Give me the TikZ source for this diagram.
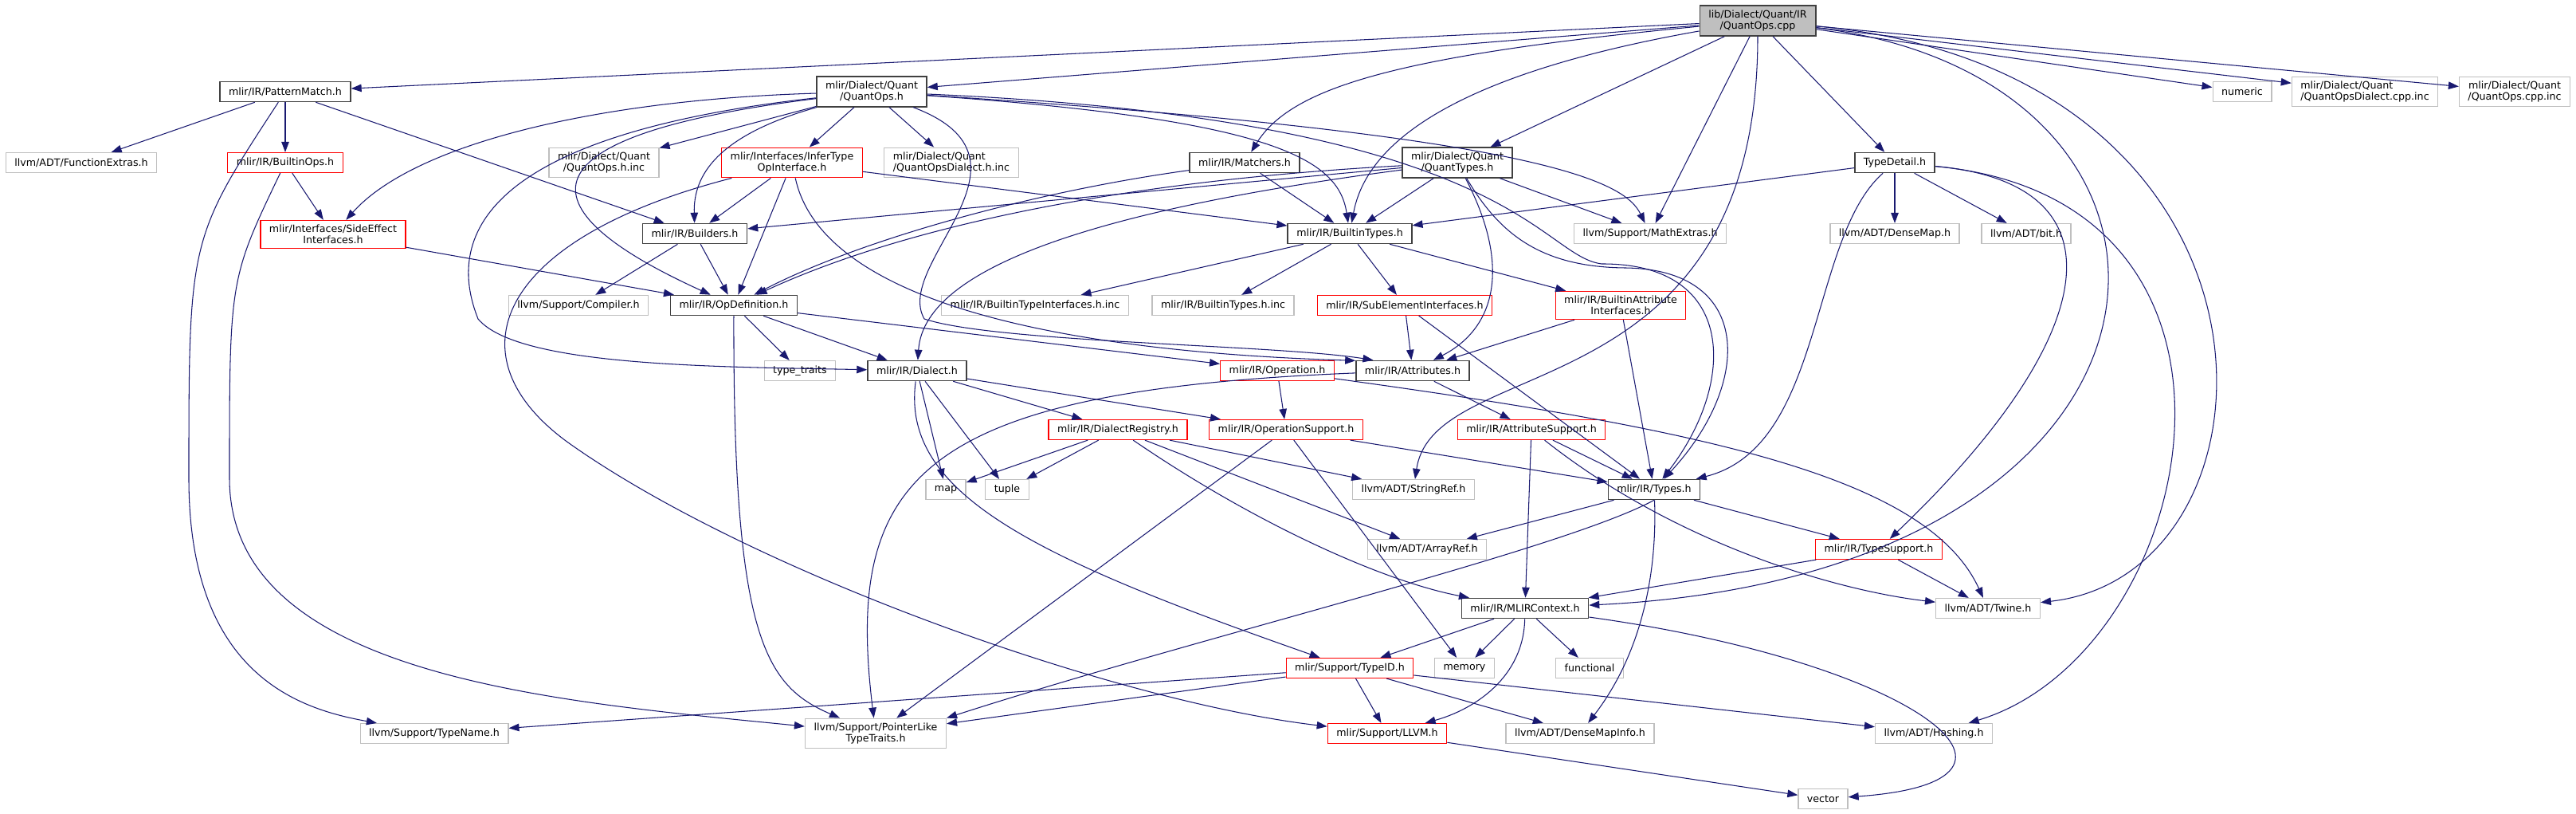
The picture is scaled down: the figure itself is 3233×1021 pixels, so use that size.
\documentclass[tikz,border=0pt]{standalone}
\usepackage{fontspec}
\setmainfont{DejaVu Sans}
\usetikzlibrary{arrows.meta}
\definecolor{cEdge}{HTML}{191970}
\definecolor{cRed}{HTML}{FF0000}
\definecolor{cExt}{HTML}{BFBFBF}
\definecolor{cRoot}{HTML}{BFBFBF}
\definecolor{cInk}{HTML}{404040}
\tikzset{
  >={Triangle[length=2.6mm,width=1.9mm]},
  box/.style ={draw,fill=white,align=center,inner xsep=2.2mm,inner ysep=1.1mm,
               minimum height=5mm,line width=0.7pt,font=\fontsize{7.2}{8.2}\selectfont},
  hbox/.style={box,draw=cInk,line width=0.9pt},
  rbox/.style={box,draw=cRed},
  xbox/.style={box,draw=cExt},
  sbox/.style={box,draw=cInk,fill=cRoot,line width=1pt},
  ar/.style  ={->,cEdge,line width=0.6pt},
}

\begin{document}
\begin{tikzpicture}[x=0.02cm,y=-0.02cm]
\useasboundingbox (0,0) rectangle (3233,1021);
\node[sbox] (root) at (2206,26) {lib/Dialect/Quant/IR\\/QuantOps.cpp};
\node[hbox] (pm) at (358,115) {mlir/IR/PatternMatch.h};
\node[hbox] (qops) at (1094,115) {mlir/Dialect/Quant\\/QuantOps.h};
\node[xbox] (numeric) at (2814,115) {numeric};
\node[xbox,align=left] (qdcpp) at (2968,115) {mlir/Dialect/Quant\\/QuantOpsDialect.cpp.inc};
\node[xbox] (qcpp) at (3156,115) {mlir/Dialect/Quant\\/QuantOps.cpp.inc};
\node[xbox] (fext) at (102,204) {llvm/ADT/FunctionExtras.h};
\node[rbox] (bops) at (358,204) {mlir/IR/BuiltinOps.h};
\node[xbox] (qhinc) at (758,204) {mlir/Dialect/Quant\\/QuantOps.h.inc};
\node[rbox] (infer) at (994,204) {mlir/Interfaces/InferType\\OpInterface.h};
\node[xbox,align=left] (qdhinc) at (1194,204) {mlir/Dialect/Quant\\/QuantOpsDialect.h.inc};
\node[hbox] (match) at (1562,204) {mlir/IR/Matchers.h};
\node[hbox] (qtypes) at (1829,204) {mlir/Dialect/Quant\\/QuantTypes.h};
\node[hbox] (tdet) at (2378,204) {TypeDetail.h};
\node[rbox] (side) at (418,294) {mlir/Interfaces/SideEffect\\Interfaces.h};
\node[hbox] (build) at (872,293) {mlir/IR/Builders.h};
\node[hbox] (btypes) at (1694,293) {mlir/IR/BuiltinTypes.h};
\node[xbox] (mathx) at (2071,293) {llvm/Support/MathExtras.h};
\node[xbox] (dmap) at (2378,293) {llvm/ADT/DenseMap.h};
\node[xbox] (bit) at (2543,293) {llvm/ADT/bit.h};
\node[xbox] (comp) at (726,383) {llvm/Support/Compiler.h};
\node[hbox] (opdef) at (921,383) {mlir/IR/OpDefinition.h};
\node[xbox] (btiinc) at (1299,383) {mlir/IR/BuiltinTypeInterfaces.h.inc};
\node[xbox] (btinc) at (1535,383) {mlir/IR/BuiltinTypes.h.inc};
\node[rbox] (subel) at (1763,383) {mlir/IR/SubElementInterfaces.h};
\node[rbox] (bai) at (2034,383) {mlir/IR/BuiltinAttribute\\Interfaces.h};
\node[xbox] (ttraits) at (1004,465) {type\_traits};
\node[hbox] (dial) at (1151,465) {mlir/IR/Dialect.h};
\node[rbox] (oper) at (1603,465) {mlir/IR/Operation.h};
\node[hbox] (attr) at (1773,465) {mlir/IR/Attributes.h};
\node[rbox] (dreg) at (1403,539) {mlir/IR/DialectRegistry.h};
\node[rbox] (opsup) at (1614,539) {mlir/IR/OperationSupport.h};
\node[rbox] (attrsup) at (1922,539) {mlir/IR/AttributeSupport.h};
\node[xbox] (map) at (1187,614) {map};
\node[xbox] (tuple) at (1264,614) {tuple};
\node[xbox] (sref) at (1774,614) {llvm/ADT/StringRef.h};
\node[hbox] (types) at (2076,614) {mlir/IR/Types.h};
\node[xbox] (aref) at (1791,689) {llvm/ADT/ArrayRef.h};
\node[rbox] (tsup) at (2358,689) {mlir/IR/TypeSupport.h};
\node[hbox] (ctx) at (1914,763) {mlir/IR/MLIRContext.h};
\node[xbox] (twine) at (2495,763) {llvm/ADT/Twine.h};
\node[rbox] (tid) at (1694,838) {mlir/Support/TypeID.h};
\node[xbox] (memory) at (1838,838) {memory};
\node[xbox] (functional) at (1995,838) {functional};
\node[xbox] (tname) at (545,920) {llvm/Support/TypeName.h};
\node[xbox] (ptrait) at (1099,920) {llvm/Support/PointerLike\\TypeTraits.h};
\node[rbox] (llvmh) at (1741,920) {mlir/Support/LLVM.h};
\node[xbox] (dmi) at (1983,920) {llvm/ADT/DenseMapInfo.h};
\node[xbox] (hash) at (2427,920) {llvm/ADT/Hashing.h};
\node[xbox] (vector) at (2288,1002) {vector};

\draw[ar] (root) -- (pm);
\draw[ar] (root) -- (qops);
\draw[ar] (root) .. controls (1750,70) and (1620,110) .. (match);
\draw[ar] (root) .. controls (1900,80) and (1720,150) .. (btypes);
\draw[ar] (root) -- (qtypes);
\draw[ar] (root) -- (mathx);
\draw[ar] (root) -- (tdet);
\draw[ar] (root) -- (numeric);
\draw[ar] (root) -- (qdcpp);
\draw[ar] (root) -- (qcpp);
\draw[ar] (root.south) .. controls (2206,520) and (1800,440) .. (sref);
\draw[ar] (root) .. controls (2820,100) and (2790,720) .. (ctx);
\draw[ar] (root) .. controls (2900,90) and (2880,720) .. (twine);
\draw[ar] (pm) -- (fext);
\draw[ar] (pm) -- (bops);
\draw[ar] (pm) -- (build);
\draw[ar] (pm) .. controls (237,300) .. (237,600) .. controls (237,850) and (380,890) .. (tname);
\draw[ar] (bops) -- (side);
\draw[ar] (bops) .. controls (288,350) .. (288,600) .. controls (288,850) and (700,880) .. (ptrait);
\draw[ar] (qops) .. controls (750,125) and (520,180) .. (side);
\draw[ar] (qops) -- (qhinc);
\draw[ar] (qops) -- (infer);
\draw[ar] (qops) -- (qdhinc);
\draw[ar] (qops) .. controls (900,170) and (870,220) .. (build);
\draw[ar] (qops) .. controls (650,170) and (650,260) .. (opdef);
\draw[ar] (qops) .. controls (600,170) and (560,300) .. (600,400) .. controls (650,460) and (900,460) .. (dial);
\draw[ar] (qops) .. controls (1600,150) and (1680,200) .. (btypes);
\draw[ar] (qops) .. controls (1950,170) and (2040,230) .. (mathx);
\draw[ar] (qops) .. controls (1900,150) and (1930,320) .. (2010,331) .. controls (2180,330) and (2180,480) .. (types);
\draw[ar] (qops) .. controls (1320,200) and (1120,330) .. (1160,400) .. controls (1250,430) and (1600,432) .. (attr.165);
\draw[ar] (infer) -- (build);
\draw[ar] (infer) -- (opdef);
\draw[ar] (infer) -- (btypes);
\draw[ar] (infer) .. controls (1030,370) and (1300,440) .. (attr.170);
\draw[ar] (infer) .. controls (620,300) and (560,450) .. (720,560) .. controls (950,720) and (1400,880) .. (llvmh);
\draw[ar] (side) -- (opdef);
\draw[ar] (build) -- (comp);
\draw[ar] (build) -- (opdef);
\draw[ar] (match) -- (btypes);
\draw[ar] (match) .. controls (1300,240) and (1080,300) .. (opdef);
\draw[ar] (qtypes) -- (build);
\draw[ar] (qtypes) .. controls (1350,230) and (1100,300) .. (opdef);
\draw[ar] (qtypes) .. controls (1400,260) and (1160,330) .. (dial);
\draw[ar] (qtypes) -- (btypes);
\draw[ar] (qtypes) -- (mathx);
\draw[ar] (qtypes) .. controls (1895,330) and (1880,410) .. (attr);
\draw[ar] (qtypes) .. controls (1880,290) and (1930,335) .. (2040,336) .. controls (2200,338) and (2200,480) .. (types);
\draw[ar] (tdet) -- (btypes);
\draw[ar] (tdet) -- (dmap);
\draw[ar] (tdet) -- (bit);
\draw[ar] (tdet) .. controls (2670,230) and (2640,420) .. (tsup);
\draw[ar] (tdet) .. controls (2880,250) and (2760,820) .. (hash);
\draw[ar] (tdet) .. controls (2270,300) and (2290,560) .. (types);
\draw[ar] (btypes) -- (btiinc);
\draw[ar] (btypes) -- (btinc);
\draw[ar] (btypes) -- (subel);
\draw[ar] (btypes) -- (bai);
\draw[ar] (subel) -- (attr);
\draw[ar] (subel) -- (types);
\draw[ar] (bai) -- (attr);
\draw[ar] (bai) -- (types);
\draw[ar] (opdef) -- (ttraits);
\draw[ar] (opdef) -- (dial);
\draw[ar] (opdef) -- (oper);
\draw[ar] (opdef) .. controls (920,800) and (960,860) .. (ptrait);
\draw[ar] (dial) -- (map);
\draw[ar] (dial) -- (tuple);
\draw[ar] (dial) -- (dreg);
\draw[ar] (dial) -- (opsup);
\draw[ar] (dial) .. controls (1130,620) and (1300,700) .. (tid);
\draw[ar] (oper) -- (opsup);
\draw[ar] (oper) .. controls (2150,540) and (2420,600) .. (twine);
\draw[ar] (attr) -- (attrsup);
\draw[ar] (attr) .. controls (1150,490) and (1060,600) .. (ptrait);
\draw[ar] (dreg) -- (map);
\draw[ar] (dreg) -- (tuple);
\draw[ar] (dreg) -- (sref);
\draw[ar] (dreg) -- (aref);
\draw[ar] (dreg) .. controls (1580,660) and (1740,730) .. (ctx);
\draw[ar] (opsup) -- (types);
\draw[ar] (opsup) -- (memory);
\draw[ar] (opsup) -- (ptrait);
\draw[ar] (attrsup) -- (ctx);
\draw[ar] (attrsup) -- (types);
\draw[ar] (attrsup) .. controls (2100,680) and (2300,740) .. (twine);
\draw[ar] (types) -- (aref);
\draw[ar] (types.south) .. controls (1960,690) and (1500,800) .. (ptrait.north east);
\draw[ar] (types) -- (tsup);
\draw[ar] (types) .. controls (2080,720) and (2060,820) .. (dmi);
\draw[ar] (tsup) -- (ctx);
\draw[ar] (tsup) -- (twine);
\draw[ar] (ctx) -- (tid);
\draw[ar] (ctx) -- (memory);
\draw[ar] (ctx) -- (functional);
\draw[ar] (ctx) .. controls (1912,850) and (1850,890) .. (llvmh);
\draw[ar] (ctx) .. controls (2400,830) and (2600,980) .. (vector);
\draw[ar] (tid) -- (tname);
\draw[ar] (tid) -- (ptrait);
\draw[ar] (tid) -- (llvmh);
\draw[ar] (tid) -- (dmi);
\draw[ar] (tid) -- (hash);
\draw[ar] (llvmh) -- (vector);
\end{tikzpicture}
\end{document}
